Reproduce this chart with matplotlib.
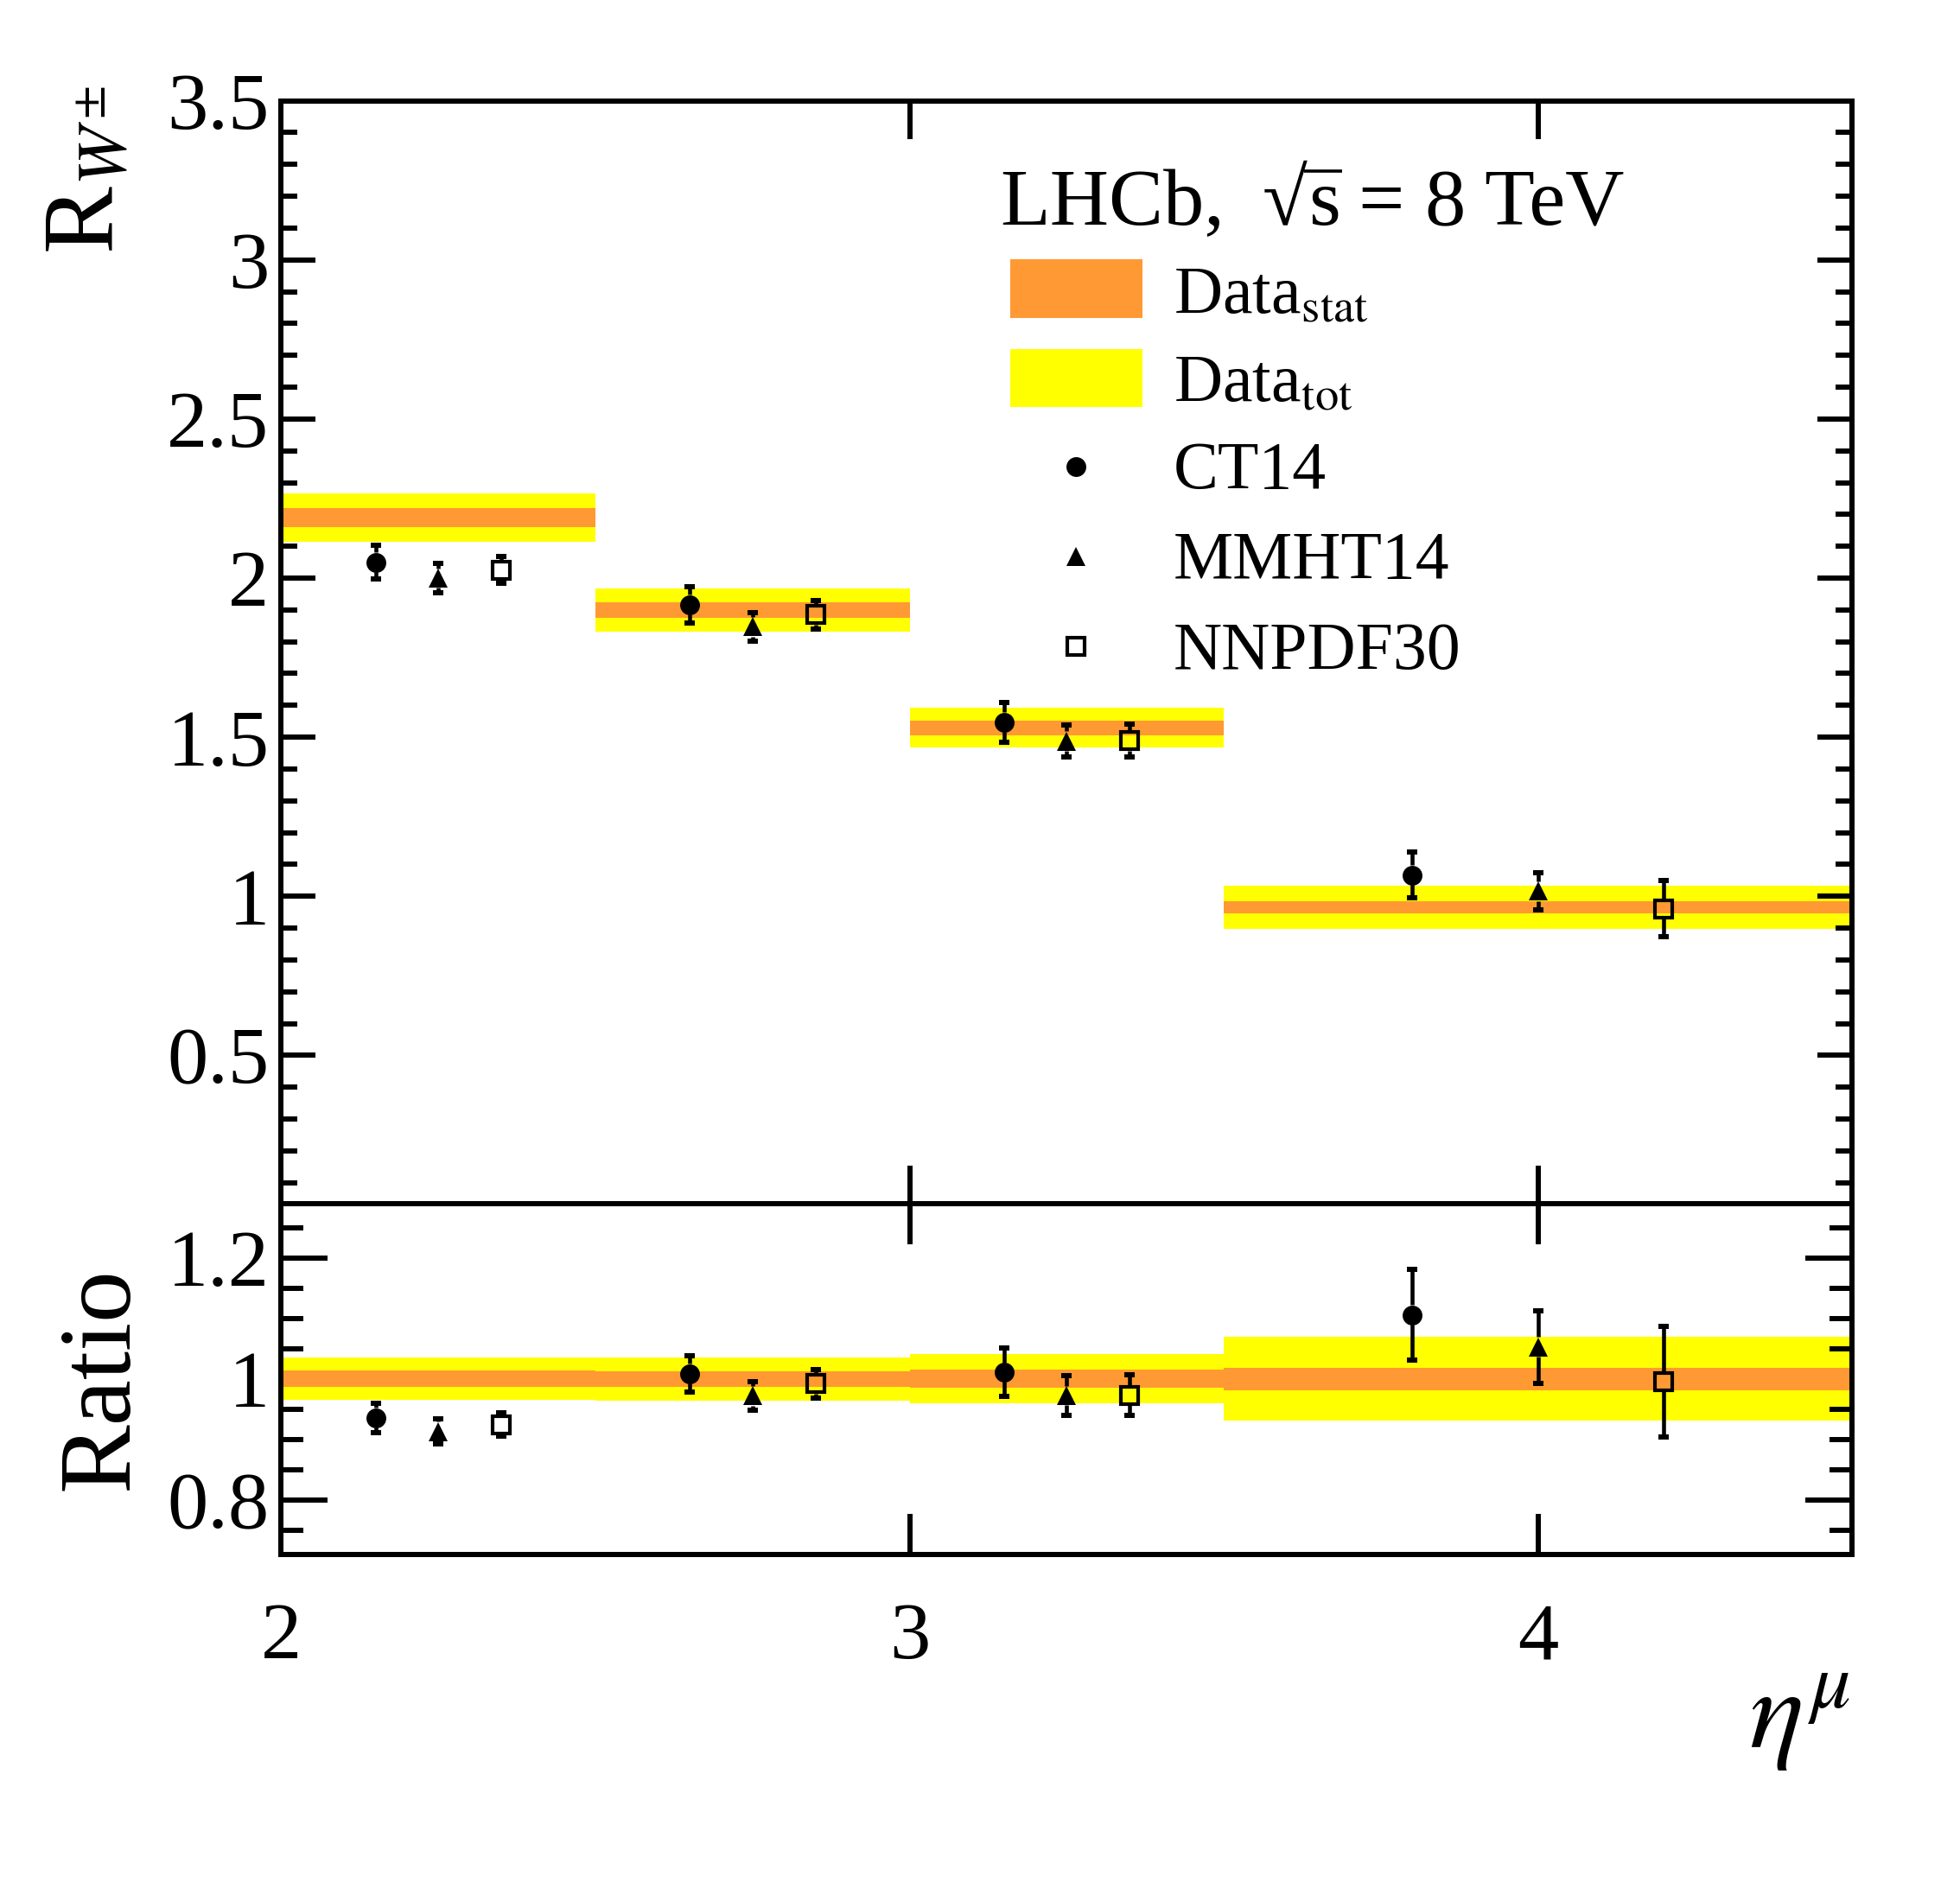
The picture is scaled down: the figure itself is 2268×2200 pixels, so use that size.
import numpy as np
import matplotlib
matplotlib.use('Agg')
import matplotlib.pyplot as plt
from matplotlib.patches import Rectangle
from matplotlib.lines import Line2D
from matplotlib.ticker import MultipleLocator, FormatStrFormatter

plt.rcParams['font.family'] = ['Liberation Serif', 'DejaVu Serif']
plt.rcParams['mathtext.fontset'] = 'stix'

# eta bins and measured ratio
bin_edges = [2.0, 2.5, 3.0, 3.5, 4.5]
data_val = [2.19, 1.90, 1.53, 0.965]
data_stat = [0.030, 0.025, 0.023, 0.018]
data_tot = [0.076, 0.068, 0.062, 0.067]

# theory predictions
ct14_val = [2.05, 1.916, 1.547, 1.067]
ct14_err = [0.053, 0.056, 0.062, 0.072]
mmht_val = [2.0, 1.847, 1.488, 1.016]
mmht_err = [0.045, 0.044, 0.051, 0.058]
nnpdf_val = [2.025, 1.885, 1.489, 0.961]
nnpdf_err = [0.042, 0.044, 0.052, 0.088]

ORANGE = '#ff9933'
YELLOW = '#ffff00'
DPI = 100
MS = 16.5
LW_ERR = 3.3
CAP_MS = 8.3
CAP_W = 4.3
FRAME_W = 4.3

edges = np.array(bin_edges)
lo, hi = edges[:-1], edges[1:]
wid = hi - lo
val = np.array(data_val)
stat = np.array(data_stat)
tot = np.array(data_tot)

fig = plt.figure(figsize=(22.68, 22.0), dpi=DPI)
FW, FH = 2268.0, 2200.0
ax1 = fig.add_axes([0.1435, 0.367, 0.8015, 0.580])
ax2 = fig.add_axes([0.1435, 0.1823, 0.8015, 0.1847])

top_ylim = (0.035, 3.5)
rat_ylim = (0.71, 1.29)


def draw_points(ax, x, y, err, marker, filled, px_per_unit):
    y = np.asarray(y)
    err = np.asarray(err)
    half = 0.5 * MS / 72 * DPI / px_per_unit
    g = np.minimum(half, err)
    ax.vlines(x, y + g, y + err, color='k', lw=LW_ERR, zorder=4)
    ax.vlines(x, y - err, y - g, color='k', lw=LW_ERR, zorder=4)
    ax.plot(x, y + err, ls='none', marker='_', ms=CAP_MS, mew=CAP_W, color='k', zorder=4)
    ax.plot(x, y - err, ls='none', marker='_', ms=CAP_MS, mew=CAP_W, color='k', zorder=4)
    if filled:
        ax.plot(x, y, ls='none', marker=marker, ms=MS, color='k', mew=0, zorder=5)
    else:
        ax.plot(x, y, ls='none', marker=marker, ms=MS - 2.5, mfc='none', mec='k', mew=3.0, zorder=5)


def px_per_unit(ax, ylim):
    h = ax.get_position().height * FH
    return h / (ylim[1] - ylim[0])


theories = [
    (ct14_val, ct14_err, 0.3, 'o', True),
    (mmht_val, mmht_err, 0.5, '^', True),
    (nnpdf_val, nnpdf_err, 0.7, 's', False),
]

# top panel
ax1.bar(lo, 2 * tot, bottom=val - tot, width=wid, align='edge', color=YELLOW, lw=0, zorder=1)
ax1.bar(lo, 2 * stat, bottom=val - stat, width=wid, align='edge', color=ORANGE, lw=0, zorder=2)
ax1.set_xlim(2, 4.5)
ax1.set_ylim(*top_ylim)
ppu1 = px_per_unit(ax1, top_ylim)
for v, e, f, m, filled in theories:
    draw_points(ax1, lo + f * wid, v, e, m, filled, ppu1)

# ratio panel
ax2.bar(lo, 2 * tot / val, bottom=1 - tot / val, width=wid, align='edge', color=YELLOW, lw=0, zorder=1)
ax2.bar(lo, 2 * stat / val, bottom=1 - stat / val, width=wid, align='edge', color=ORANGE, lw=0, zorder=2)
ax2.set_xlim(2, 4.5)
ax2.set_ylim(*rat_ylim)
ppu2 = px_per_unit(ax2, rat_ylim)
for v, e, f, m, filled in theories:
    draw_points(ax2, lo + f * wid, np.array(v) / val, np.array(e) / val, m, filled, ppu2)

for ax in (ax1, ax2):
    for s in ax.spines.values():
        s.set_linewidth(FRAME_W)
    ax.set_xticks([2, 3, 4])
    ax.tick_params(axis='both', which='both', direction='in', top=True, right=True,
                   width=FRAME_W, labelsize=68, colors='k')
    ax.tick_params(axis='y', which='both', pad=10)
    ax.yaxis.set_major_formatter(FormatStrFormatter('%g'))
    ax.xaxis.set_major_formatter(FormatStrFormatter('%g'))

ax1.yaxis.set_major_locator(MultipleLocator(0.5))
ax1.yaxis.set_minor_locator(MultipleLocator(0.1))
ax1.tick_params(axis='y', which='major', length=29)
ax1.tick_params(axis='y', which='minor', length=14)
ax1.tick_params(axis='x', which='major', length=32, labelbottom=False)

ax2.yaxis.set_major_locator(MultipleLocator(0.2))
ax2.yaxis.set_minor_locator(MultipleLocator(0.05))
ax2.tick_params(axis='y', which='major', length=39)
ax2.tick_params(axis='y', which='minor', length=19)
ax2.tick_params(axis='x', which='major', length=34, pad=40)

# axis titles
fig.text(0.0225, 0.955, r'R$_{W^{\pm}}$', rotation=90, ha='left', va='top', fontsize=84)
fig.text(0.0287, 0.1823 + 0.1847 / 2, 'Ratio', rotation=90, ha='left', va='center', fontsize=86)
fig.text(0.944, 0.0805, r'$\eta^{\mu}$', ha='right', va='baseline', fontsize=95)

# header "LHCb, sqrt(s) = 8 TeV", built piece by piece
renderer = fig.canvas.get_renderer()
HS = 68
hdr_base = 1 - 260 / FH


def piece(txt, x_px):
    t = fig.text(x_px / FW, hdr_base, txt, fontsize=HS, va='baseline', ha='left')
    return t.get_window_extent(renderer=renderer)


bb = piece('LHCb,', 1157)
bb_r = piece('\u221a', bb.x1 + 44)
bb_s = piece('s', bb_r.x1 + 1)
bar_y = bb_r.y1 - 2.5
fig.add_artist(Line2D([(bb_r.x1 - 4) / FW, (bb_s.x1 + 2) / FW], [bar_y / FH, bar_y / FH],
                      transform=fig.transFigure, color='k', lw=2.6, solid_capstyle='butt'))
piece('= 8 TeV', bb_s.x1 + 22)

# legend
tr = ax1.transAxes
ax1.add_patch(Rectangle((0.464, 0.803), 0.084, 0.053, transform=tr, color=ORANGE, lw=0))
ax1.add_patch(Rectangle((0.464, 0.722), 0.084, 0.053, transform=tr, color=YELLOW, lw=0))
ax1.text(0.568, 0.8075, r'Data$_{\mathrm{stat}}$', transform=tr, fontsize=56, va='baseline')
ax1.text(0.568, 0.728, r'Data$_{\mathrm{tot}}$', transform=tr, fontsize=56, va='baseline')
leg_y = [0.668, 0.587, 0.505]
leg_txt = ['CT14', 'MMHT14', 'NNPDF30']
leg_base = [0.649, 0.567, 0.485]
for (v, e, f, m, filled), yy, t, yb in zip(theories, leg_y, leg_txt, leg_base):
    if filled:
        ax1.plot([0.506], [yy], transform=tr, marker=m, ms=MS, color='k', mew=0, ls='none')
    else:
        ax1.plot([0.506], [yy], transform=tr, marker=m, ms=MS - 2.5, mfc='none', mec='k', mew=3.0, ls='none')
    ax1.text(0.568, yb, t, transform=tr, fontsize=56, va='baseline')

fig.savefig('out.png', dpi=DPI)
